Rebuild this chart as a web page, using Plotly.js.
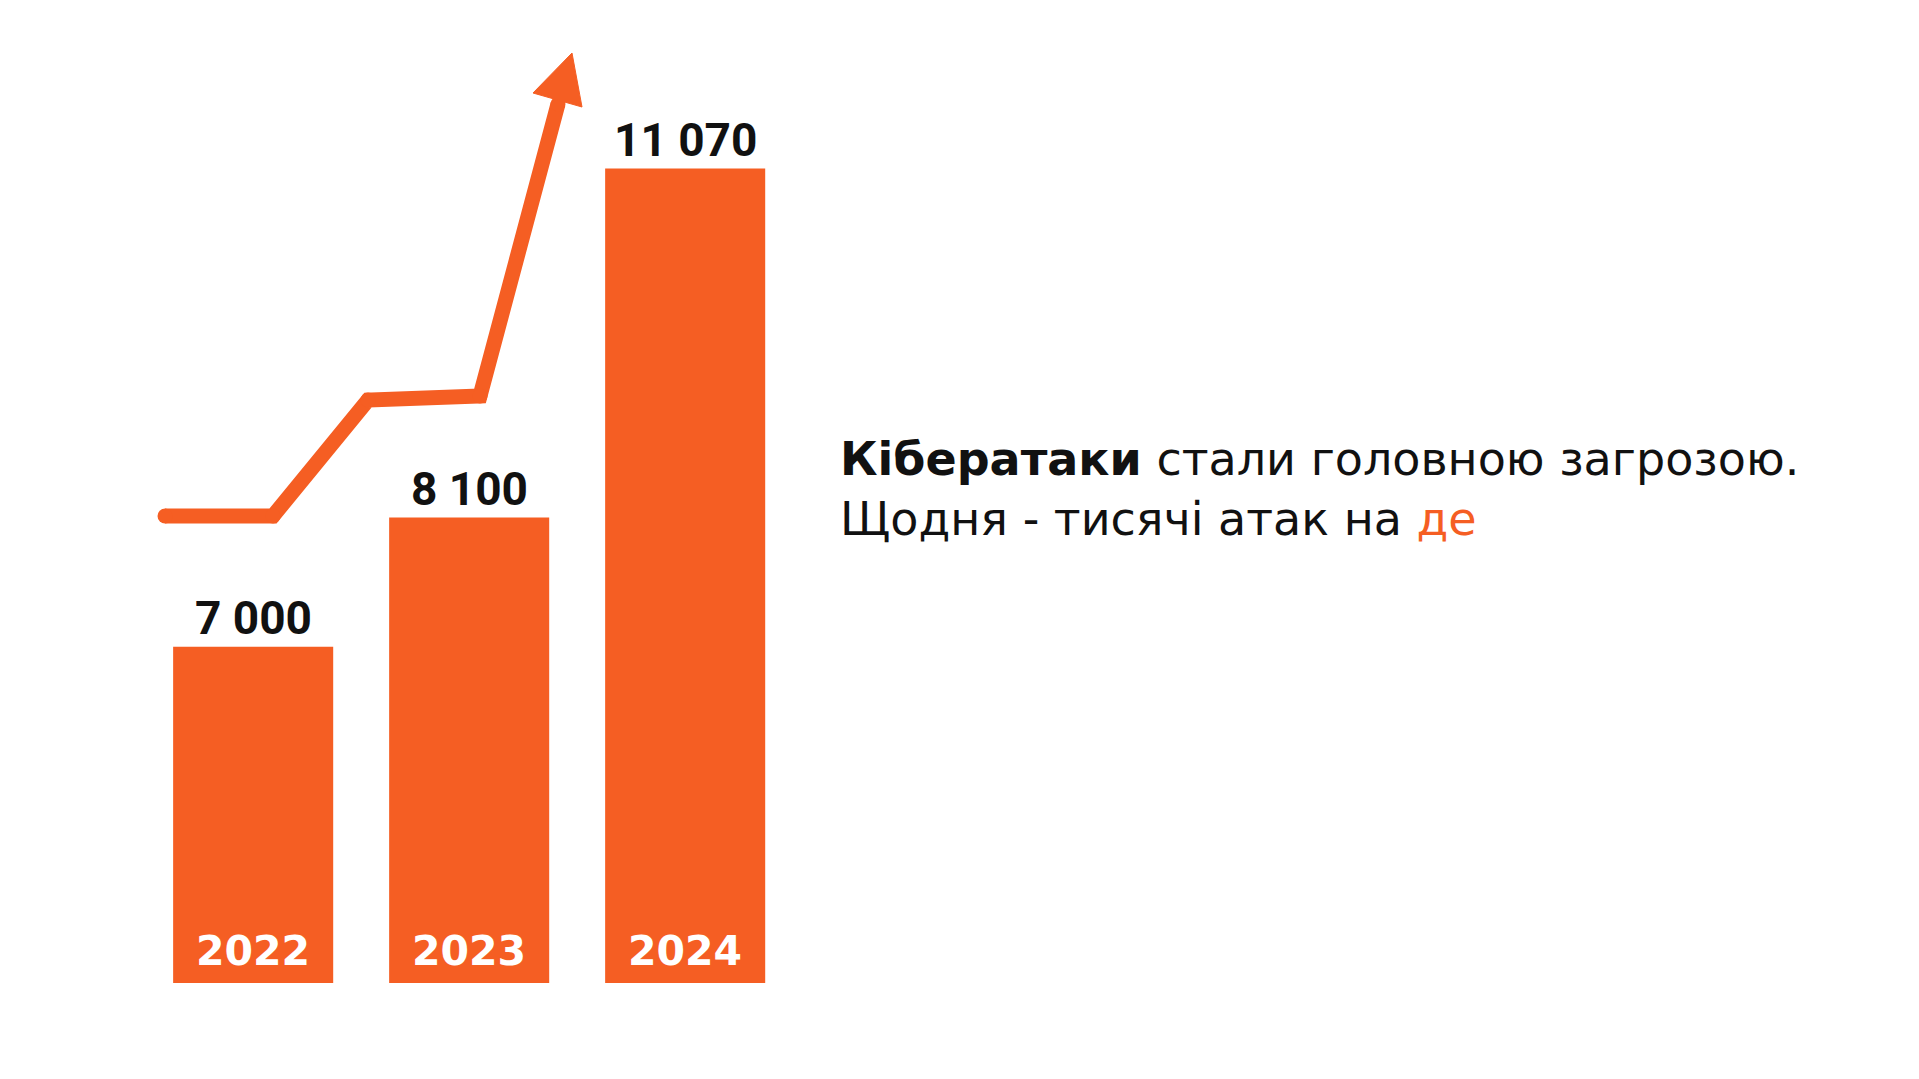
<!DOCTYPE html>
<html>
<head>
<meta charset="utf-8">
<script src="https://cdn.plot.ly/plotly-3.0.1.min.js"></script>
<style>
  html, body { margin: 0; padding: 0; background: #ffffff; }
  #chart { width: 1919px; height: 1079px; }
</style>
</head>
<body>
<div id="chart"></div>
<script>
// ---- data ----
const years = ['2022', '2023', '2024'];
const attacks = [7000, 8100, 11070];
const boldWord = 'Кібератаки';
const line1Rest = ' стали головною загрозою.';
const line2Main = 'Щодня - тисячі атак на ';
const line2Accent = 'де';

// decorative trend arrow (drawing units of an overlay canvas axis)
const trendX = [165, 273, 368, 480, 558];
const trendY = [516, 516, 400, 396, 104];
const headX = [572, 533, 582, 572];
const headY = [53, 93, 107, 53];

// ---- styles ----
const ORANGE = '#F55E23';
const fmt = v => String(v).replace(/\B(?=(\d{3})+(?!\d))/g, ' ');

const traces = [
  {
    type: 'bar',
    x: years,
    y: attacks,
    marker: { color: ORANGE, line: { width: 0 } },
    hoverinfo: 'skip',
    cliponaxis: true
  },
  {
    type: 'scatter',
    mode: 'lines+markers',
    x: trendX,
    y: trendY,
    xaxis: 'x2',
    yaxis: 'y2',
    line: { color: ORANGE, width: 15, shape: 'linear' },
    marker: { color: ORANGE, size: 15, line: { width: 0 } },
    hoverinfo: 'skip'
  },
  {
    type: 'scatter',
    mode: 'lines',
    x: headX,
    y: headY,
    xaxis: 'x2',
    yaxis: 'y2',
    fill: 'toself',
    fillcolor: ORANGE,
    line: { color: ORANGE, width: 1 },
    hoverinfo: 'skip'
  }
];

const annotations = [];
years.forEach((yr, i) => {
  annotations.push({
    x: i, y: attacks[i], xref: 'x', yref: 'y',
    text: fmt(attacks[i]),
    showarrow: false,
    yanchor: 'bottom',
    yshift: 0,
    font: { family: 'Roboto, DejaVu Sans, sans-serif', size: 46, color: '#111111', weight: 700 }
  });
  annotations.push({
    x: i, y: 1 - 951 / 1079, xref: 'x', yref: 'paper',
    text: '<b>' + yr + '</b>',
    showarrow: false,
    yanchor: 'middle',
    font: { family: 'DejaVu Sans, sans-serif', size: 41, color: '#ffffff' }
  });
});
annotations.push({
  x: 838 / 1919, y: 1 - 489.5 / 1079, xref: 'paper', yref: 'paper',
  xanchor: 'left', yanchor: 'middle', align: 'left',
  showarrow: false,
  text: '<b>' + boldWord + '</b>' + line1Rest + '<br>' + line2Main +
        '<span style="color:' + ORANGE + '">' + line2Accent + '</span>',
  font: { family: 'DejaVu Sans, sans-serif', size: 46, color: '#111111' }
});

const layout = {
  width: 1919,
  height: 1079,
  margin: { l: 0, r: 0, t: 0, b: 0, pad: 0 },
  paper_bgcolor: '#ffffff',
  plot_bgcolor: 'rgba(0,0,0,0)',
  showlegend: false,
  bargap: 0.259,
  xaxis: {
    type: 'category',
    range: [-1.172, 7.712],
    visible: false,
    fixedrange: true
  },
  yaxis: {
    domain: [96 / 1079, 1],
    range: [4139, 12505],
    visible: false,
    fixedrange: true
  },
  xaxis2: {
    overlaying: 'x',
    range: [0, 1919],
    visible: false,
    anchor: 'y2'
  },
  yaxis2: {
    domain: [0, 1],
    range: [1079, 0],
    visible: false,
    anchor: 'x2'
  },
  annotations: annotations
};

Plotly.newPlot('chart', traces, layout, { staticPlot: true, displayModeBar: false });
</script>
</body>
</html>
